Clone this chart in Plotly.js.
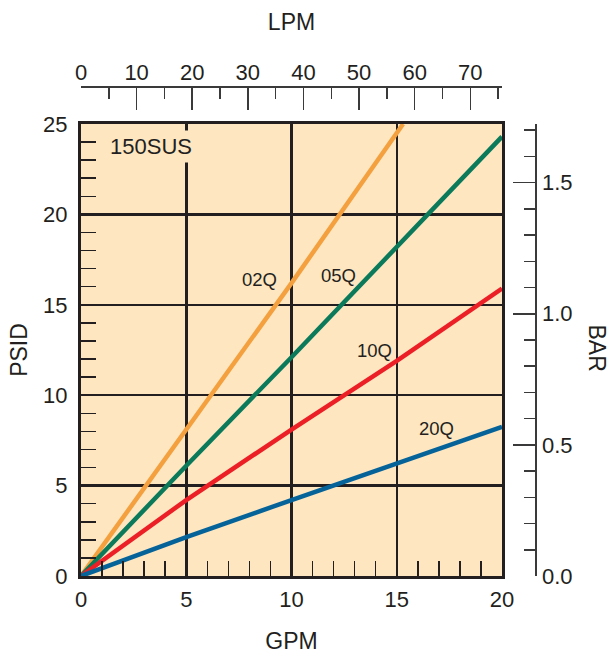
<!DOCTYPE html>
<html>
<head>
<meta charset="utf-8">
<script src="https://cdn.plot.ly/plotly-3.0.1.min.js"></script>
<style>html,body{margin:0;padding:0;background:#fff;}#chart{width:608px;height:654px;}</style>
</head>
<body>
<div id="chart"></div>
<script>
// ---- data (PSID vs GPM, 150 SUS) ----
const seriesNames = ["02Q", "05Q", "10Q", "20Q"];
const gpm02Q = [0, 5, 10, 15, 15.3];
const psid02Q = [0, 8.1, 16.2, 24.5, 25];
const gpm05Q = [0, 5, 10, 15, 20];
const psid05Q = [0, 6.1, 12.1, 18.2, 24.3];
const gpm10Q = [0, 5, 10, 15, 20];
const psid10Q = [0, 4.2, 8.1, 11.9, 15.9];
const gpm20Q = [0, 5, 10, 15, 20];
const psid20Q = [0, 2.15, 4.2, 6.25, 8.25];
// label anchor positions (GPM, PSID)
const labelGpm = [8.5, 12.25, 13.95, 16.9];
const labelPsid = [16.4, 16.6, 12.45, 8.15];
const viscosityLabel = "150SUS";

// axis ranges / conversions
const GPM_MAX = 20;
const PSID_MAX = 25;
const LPM_PER_GPM = 3.785;
const PSI_PER_BAR = 14.5038;

const colors = ["#f4a03f", "#0b7a5b", "#ec1f27", "#05639a"];
const ink = "#231f20";
const bg = "#fde6c0";
const FONT = "Liberation Sans, Arial, Helvetica, sans-serif";

const xs = [gpm02Q, gpm05Q, gpm10Q, gpm20Q];
const ys = [psid02Q, psid05Q, psid10Q, psid20Q];

const traces = seriesNames.map((n, i) => ({
  type: "scatter", mode: "lines", name: n,
  x: xs[i], y: ys[i],
  line: {color: colors[i], width: 4.5},
  hoverinfo: "skip", showlegend: false, cliponaxis: true
}));
// invisible helper traces so the secondary axes are drawn
traces.push({type: "scatter", mode: "lines", x: [0, GPM_MAX * LPM_PER_GPM], y: [0, 0],
  xaxis: "x2", yaxis: "y", opacity: 0, line: {width: 0}, hoverinfo: "skip", showlegend: false});
traces.push({type: "scatter", mode: "lines", x: [0, 0], y: [0, PSID_MAX / PSI_PER_BAR],
  xaxis: "x", yaxis: "y2", opacity: 0, line: {width: 0}, hoverinfo: "skip", showlegend: false});

const W = 608, H = 654, ML = 81, MR = 60, MT = 86, MB = 78;
const PW = W - ML - MR, PH = H - MT - MB;
const xDomEnd = (502 - ML) / PW;
const yDomEnd = (576 - 124) / PH;

const annotations = seriesNames.map((n, i) => ({
  x: labelGpm[i], y: labelPsid[i], xref: "x", yref: "y", text: n, showarrow: false,
  font: {family: FONT, size: 18.5, color: ink}
}));
annotations.push({
  x: 3.31, y: 23.74, xref: "x", yref: "y", text: viscosityLabel, showarrow: false,
  font: {family: FONT, size: 22, color: ink}, bgcolor: bg, borderpad: 3
});
annotations.push({
  x: (596.5 - ML) / PW, y: (576 - 348) / PH, xref: "paper", yref: "paper",
  xanchor: "center", yanchor: "middle",
  text: "BAR", showarrow: false, textangle: 90,
  font: {family: FONT, size: 23, color: ink}
});

const layout = {
  width: W, height: H,
  margin: {l: ML, r: MR, t: MT, b: MB, pad: 0},
  paper_bgcolor: "#ffffff", plot_bgcolor: bg,
  font: {family: FONT, size: 22, color: ink},
  showlegend: false,
  xaxis: {
    domain: [0, xDomEnd], range: [0, GPM_MAX], dtick: 5, tick0: 0,
    showgrid: true, gridcolor: ink, gridwidth: 2.5, zeroline: false,
    showline: true, linecolor: ink, linewidth: 3, mirror: true,
    ticks: "", ticklabelstandoff: 2,
    minor: {ticks: "inside", dtick: 1, tick0: 0, ticklen: 15, tickwidth: 1.5, tickcolor: ink, showgrid: false},
    tickfont: {size: 22},
    title: {text: "GPM", standoff: 24, font: {size: 23}},
    fixedrange: true
  },
  yaxis: {
    domain: [0, yDomEnd], range: [0, PSID_MAX], dtick: 5, tick0: 0,
    showgrid: true, gridcolor: ink, gridwidth: 2.5, zeroline: false,
    showline: true, linecolor: ink, linewidth: 3, mirror: true,
    ticks: "", ticklabelstandoff: 6,
    minor: {ticks: "inside", dtick: 1, tick0: 0, ticklen: 15, tickwidth: 1.5, tickcolor: ink, showgrid: false},
    tickfont: {size: 22},
    title: {text: "PSID", standoff: 10, font: {size: 23}},
    fixedrange: true
  },
  xaxis2: {
    overlaying: "x", anchor: "free", position: 1, side: "top",
    domain: [0, xDomEnd], range: [0, GPM_MAX * LPM_PER_GPM], dtick: 10, tick0: 0,
    showgrid: false, zeroline: false,
    showline: true, linecolor: "#3a3a3a", linewidth: 1.5,
    ticks: "inside", ticklen: 22, tickwidth: 1.5, tickcolor: "#3a3a3a",
    minor: {ticks: "inside", dtick: 5, tick0: 0, ticklen: 11, tickwidth: 1.5, tickcolor: "#3a3a3a", showgrid: false},
    tickfont: {size: 22}, ticklabelstandoff: -3,
    title: {text: "LPM", standoff: 21, font: {size: 23}},
    fixedrange: true
  },
  yaxis2: {
    overlaying: "y", anchor: "free", position: (535 - ML) / PW, side: "right",
    domain: [0, yDomEnd], range: [0, PSID_MAX / PSI_PER_BAR], dtick: 0.5, tick0: 0,
    tickformat: ".1f",
    showgrid: false, zeroline: false,
    showline: true, linecolor: "#3a3a3a", linewidth: 1.5,
    ticks: "inside", ticklen: 22, tickwidth: 1.5, tickcolor: "#3a3a3a",
    minor: {ticks: "inside", dtick: 0.1, tick0: 0, ticklen: 11, tickwidth: 1.5, tickcolor: "#3a3a3a", showgrid: false},
    tickfont: {size: 22}, ticklabelstandoff: 1,
    fixedrange: true
  },
  annotations: annotations
};

Plotly.newPlot("chart", traces, layout, {staticPlot: true, displayModeBar: false});
</script>
</body>
</html>
